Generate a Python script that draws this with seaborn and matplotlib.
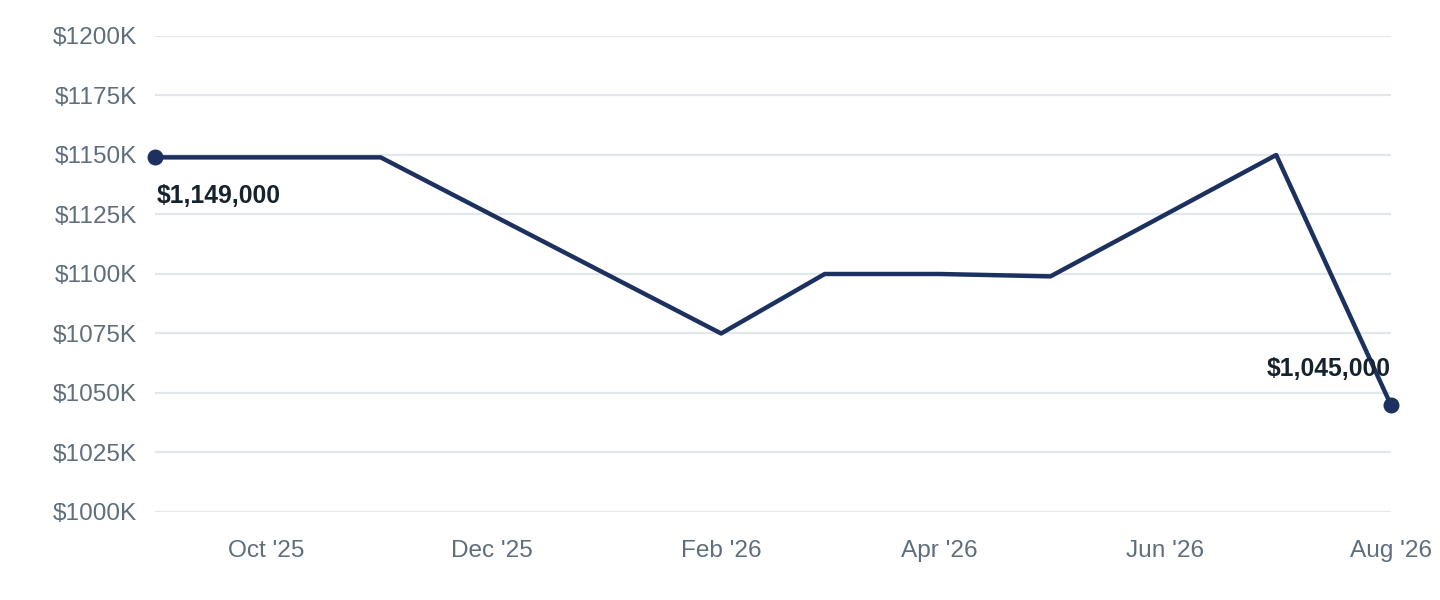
import matplotlib.pyplot as plt
import matplotlib.dates as mdates
import matplotlib.ticker as mticker
import seaborn as sns
import pandas as pd

# Values (monthly, vertices of the line)
months = ["2025-09-01", "2025-11-01", "2026-02-01", "2026-03-01",
          "2026-04-01", "2026-05-01", "2026-07-01", "2026-08-01"]
values = [1149000, 1149000, 1075000, 1100000, 1100000, 1099000, 1150000, 1045000]

y_ticks = list(range(1000000, 1200001, 25000))
x_ticks = ["2025-10-01", "2025-12-01", "2026-02-01", "2026-04-01", "2026-06-01", "2026-08-01"]

df = pd.DataFrame({"month": pd.to_datetime(months), "value": values})

sns.set_style("white")
plt.rcParams["font.family"] = ["Liberation Sans", "DejaVu Sans"]

line_color = "#1c3160"
tick_color = "#5f6e7c"
grid_color = "#e2e6ed"
label_color = "#15232e"

fig = plt.figure(figsize=(14.4, 6), dpi=100)
ax = fig.add_axes([0.1076, 0.1467, 0.8583, 0.7933])

sns.lineplot(data=df, x="month", y="value", ax=ax, color=line_color, linewidth=3.2)

# End-point markers
ends = df.iloc[[0, -1]]
ax.scatter(ends["month"], ends["value"], color=line_color, s=110, zorder=5, clip_on=False)

# Labels for first and last values
first, last = df.iloc[0], df.iloc[-1]
ax.annotate(f"${first['value']:,.0f}", (first["month"], first["value"]),
            xytext=(1, -19), textcoords="offset points", ha="left", va="top",
            fontsize=17.8, fontweight="bold", color=label_color)
ax.annotate(f"${last['value']:,.0f}", (last["month"], last["value"]),
            xytext=(0, 17), textcoords="offset points", ha="right", va="bottom",
            fontsize=17.8, fontweight="bold", color=label_color)

ax.set_xlim(pd.Timestamp(months[0]), pd.Timestamp(months[-1]))
ax.set_ylim(y_ticks[0], y_ticks[-1])
ax.set_yticks(y_ticks)
ax.yaxis.set_major_formatter(mticker.FuncFormatter(lambda v, p: f"${v / 1000:.0f}K"))
ax.set_xticks(pd.to_datetime(x_ticks))
ax.xaxis.set_major_formatter(mdates.DateFormatter("%b '%y"))

ax.grid(axis="y", color=grid_color, linewidth=1.6)
ax.set_axisbelow(True)
for s in ax.spines.values():
    s.set_visible(False)
ax.tick_params(axis="both", length=0, labelsize=17.6, colors=tick_color)
ax.tick_params(axis="y", pad=13)
ax.tick_params(axis="x", pad=20)
ax.set_xlabel("")
ax.set_ylabel("")

plt.savefig("out.png", dpi=100)
